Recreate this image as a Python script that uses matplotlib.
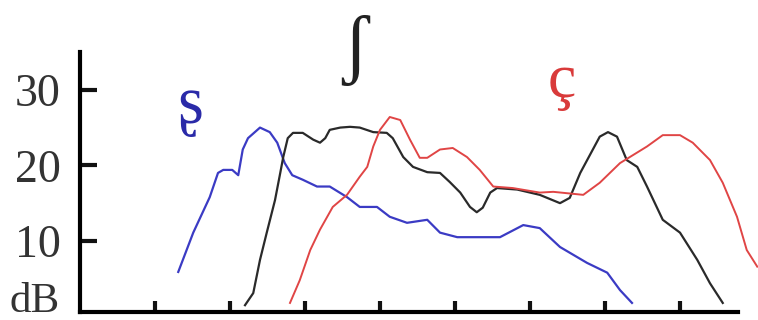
import matplotlib
matplotlib.use('Agg')
import matplotlib.pyplot as plt

# spectra of three fricatives, frequency in kHz, level in dB
s_retro_khz = [1.31, 1.51, 1.73, 1.84, 1.91, 2.03, 2.11, 2.17, 2.24, 2.40, 2.53, 2.63, 2.73, 2.83,
               2.97, 3.16, 3.33, 3.56, 3.73, 3.96, 4.13, 4.36, 4.63, 4.80, 5.03, 5.60, 5.91,
               6.13, 6.40, 6.76, 7.03, 7.20, 7.36]
s_retro_db = [5.9, 11.1, 15.8, 19.0, 19.4, 19.4, 18.7, 22.1, 23.6, 25.0, 24.4, 23.0, 20.3, 18.7,
              18.1, 17.2, 17.2, 15.8, 14.5, 14.5, 13.2, 12.4, 12.8, 11.1, 10.5, 10.5, 12.1,
              11.7, 9.2, 7.1, 5.8, 3.5, 1.8]

esh_khz = [2.20, 2.31, 2.40, 2.49, 2.60, 2.67, 2.71, 2.77, 2.84, 2.97, 3.11, 3.20, 3.27, 3.33,
           3.47, 3.60, 3.73, 3.91, 4.09, 4.17, 4.31, 4.44, 4.63, 4.80, 4.93, 5.07, 5.20, 5.29,
           5.37, 5.47, 5.56, 5.83, 6.13, 6.40, 6.53, 6.67, 6.80, 6.93, 7.04, 7.16, 7.29, 7.43,
           7.56, 7.77, 8.00, 8.23, 8.40, 8.57]
esh_db = [1.5, 3.1, 7.5, 11.1, 15.4, 19.0, 21.1, 23.6, 24.3, 24.3, 23.4, 23.0, 23.6, 24.7,
          25.0, 25.1, 25.0, 24.4, 24.3, 23.6, 21.1, 19.8, 19.1, 19.0, 17.8, 16.4, 14.5, 13.8,
          14.4, 16.4, 17.0, 16.8, 16.1, 15.0, 15.7, 19.0, 21.4, 23.8, 24.4, 23.8, 20.7, 19.8,
          17.2, 12.8, 11.1, 7.5, 4.4, 1.8]

c_ced_khz = [2.80, 2.93, 3.07, 3.20, 3.37, 3.56, 3.73, 3.83, 3.91, 4.00, 4.13, 4.27, 4.40, 4.53,
             4.63, 4.80, 4.97, 5.16, 5.33, 5.51, 5.77, 6.13, 6.31, 6.71, 6.93, 7.20, 7.56, 7.77,
             8.00, 8.17, 8.40, 8.57, 8.76, 8.89, 9.03]
c_ced_db = [1.8, 4.8, 8.8, 11.5, 14.5, 16.1, 18.5, 19.8, 22.5, 24.7, 26.4, 26.0, 23.4, 21.0,
            21.0, 22.1, 22.3, 21.1, 19.4, 17.2, 17.0, 16.4, 16.5, 16.1, 17.7, 20.3, 22.5, 24.0,
            24.0, 23.0, 20.7, 17.7, 13.2, 8.8, 6.6]

y_ticks = [10, 20, 30]
x_ticks = [1, 2, 3, 4, 5, 6, 7, 8]

serif = ['Liberation Serif', 'DejaVu Serif']
plt.rcParams['font.family'] = serif

fig = plt.figure(figsize=(7.58, 3.2), dpi=100)
ax = fig.add_axes([80 / 758, 8 / 320, 678 / 758, 260 / 320])

ax.plot(s_retro_khz, s_retro_db, color='#3b3bc4', lw=1.6, clip_on=False)
ax.plot(esh_khz, esh_db, color='#2a2a2a', lw=1.6, clip_on=False)
ax.plot(c_ced_khz, c_ced_db, color='#e04545', lw=1.4, clip_on=False)

ax.set_xlim(0, 9.04)
ax.set_ylim(0.6, 35.0)
for side in ['top', 'right']:
    ax.spines[side].set_visible(False)
ax.spines['left'].set_linewidth(3)
ax.spines['bottom'].set_linewidth(3)
ax.spines['bottom'].set_bounds(0, 8.77)

ax.set_xticks(x_ticks)
ax.set_xticklabels([])
ax.tick_params(axis='x', direction='in', length=8, width=3, color='#111111')
ax.set_yticks(y_ticks)
ax.set_yticklabels([str(t) for t in y_ticks], fontsize=33, color='#333333')
ax.tick_params(axis='y', direction='in', length=12, width=3, pad=14, color='#111111')

ax.text(-0.27, 0.6, 'dB', fontsize=31, color='#333333', ha='right', va='baseline')

ax.text(1.47, 25.6, 'ʂ', fontsize=48, color='#2a2aa8', ha='center', va='baseline')
ax.text(3.67, 32.8, 'ʃ', fontsize=56, color='#222222', ha='center', va='baseline')
ax.text(6.42, 29.0, 'ç', fontsize=46, color='#d93a3a', ha='center', va='baseline')

fig.savefig('out.png', dpi=100)
